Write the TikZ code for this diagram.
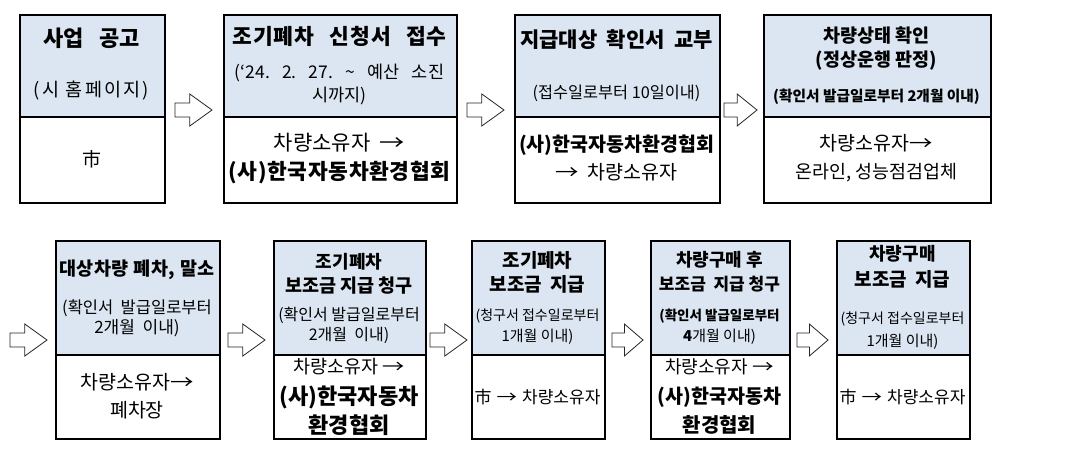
\documentclass[tikz,border=0pt]{standalone}
\usepackage{fontspec}
\usepackage{graphicx}
\setmainfont{Noto Sans CJK KR}
\definecolor{hd}{RGB}{220,230,242}
\newcommand\fs[1]{\fontsize{#1}{#1}\selectfont}
\newcommand\gap{\hspace{0.45em}}
\newcommand\wgap{\hspace{0.7em}}
\newcommand\ngap{\hspace{0.3em}}
\newcommand\rarr{\scalebox{1.2}[1]{→}}
\newcommand\LS[1]{\addfontfeature{LetterSpace=#1}}
\tikzset{
  boxn/.style={draw=black, line width=2pt, inner sep=0pt, anchor=north west},
  divl/.style={draw=black, line width=1.3pt},
  arr/.style={draw=black!85, line width=0.8pt, fill=white, line join=miter},
  ttl/.style={inner sep=0pt, font=\fs{20}\bfseries},
  ttls/.style={inner sep=0pt, font=\fs{18}\bfseries},
  sub/.style={inner sep=0pt, font=\fs{15.5}},
  bod/.style={inner sep=0pt, font=\fs{19.5}},
  bodb/.style={inner sep=0pt, font=\fs{20.5}\bfseries},
}
% name, x1, x2, ytop, ydiv, ybot
\newcommand\stepbox[6]{%
  \fill[hd] (#2,#4) rectangle (#3,#5);
  \draw[divl] (#2,#5) -- (#3,#5);
  \node[boxn, minimum width={#3-#2}, minimum height={#6-#4}] (#1) at (#2,#4) {};
}
% name, x1, x2, y
\newcommand\blockarr[4]{%
  \coordinate (#1) at ({(#2+#3)/2},#4);
  \draw[arr] (#2,#4-7) -- ({#2+0.4*(#3-#2)},#4-7) -- ({#2+0.4*(#3-#2)},#4-16)
    -- (#3,#4) -- ({#2+0.4*(#3-#2)},#4+16) -- ({#2+0.4*(#3-#2)},#4+7) -- (#2,#4+7) -- cycle;
}
\begin{document}
\begin{tikzpicture}[x=1pt,y=-1pt]
\useasboundingbox[fill=white] (0,0) rectangle (1076,451);

% top row
\stepbox{b1}{19}{164}{14}{117}{202}
\stepbox{b2}{223}{456}{14}{117}{202}
\stepbox{b3}{514}{719}{14}{117}{202}
\stepbox{b4}{763}{990}{14}{117}{202}
% bottom row
\stepbox{b5}{55}{219}{240}{355}{438}
\stepbox{b6}{273}{425}{240}{355}{438}
\stepbox{b7}{471}{604}{240}{355}{438}
\stepbox{b8}{650}{789}{240}{355}{438}
\stepbox{b9}{836}{969}{240}{355}{438}

% arrows
\blockarr{a1}{175}{212}{110}
\blockarr{a2}{467}{504}{110}
\blockarr{a3}{724}{757}{110}
\blockarr{a4}{10}{47}{340}
\blockarr{a5}{228}{265}{340}
\blockarr{a6}{430}{467}{340}
\blockarr{a7}{612}{643}{340}
\blockarr{a8}{797}{828}{340}

% box 1
\node[ttl, font=\fs{22}\bfseries] (t1a) at (91.5,38) {사업\wgap 공고};
\node[sub, font=\fs{18.5}\LS{12}] (t1b) at (91.5,91) {(시 홈페이지)};
\node[bod, font=\fs{19}] (t1c) at (91.5,159) {市};

% box 2
\node[ttl, font=\fs{21.5}\bfseries\LS{5}] (t2a) at (339.5,36) {조기폐차\wgap 신청서\wgap 접수};
\node[sub, font=\fs{17.5}] (t2b) at (339.5,73) {(‘24.\wgap 2.\wgap 27.\wgap \textasciitilde\wgap 예산\wgap 소진};
\node[sub, font=\fs{17.5}] (t2c) at (339.5,96) {시까지)};
\node[bod, font=\fs{21}] (t2d) at (339.5,143) {차량소유자\gap \rarr};
\node[bodb, font=\fs{21.5}\bfseries\LS{3}] (t2e) at (339.5,173) {(사)한국자동차환경협회};

% box 3
\node[ttl, font=\fs{21}\bfseries] (t3a) at (616.5,40) {지급대상\gap 확인서\gap 교부};
\node[sub, font=\fs{16.3}] (t3b) at (616.5,93) {(접수일로부터 10일이내)};
\node[bodb, font=\fs{19.5}\bfseries] (t3c) at (616.5,145) {(사)한국자동차환경협회};
\node[bod] (t3d) at (616.5,172) {\rarr\gap 차량소유자};

% box 4
\node[ttl, font=\fs{18.5}\bfseries] (t4a) at (876.5,36) {차량상태 확인};
\node[ttl, font=\fs{18.5}\bfseries] (t4b) at (876.5,61) {(정상운행 판정)};
\node[sub, font=\fs{14.7}\bfseries] (t4c) at (876.5,97) {(확인서 발급일로부터 2개월 이내)};
\node[bod] (t4d) at (876.5,143) {차량소유자\rarr};
\node[bod, font=\fs{18.4}] (t4e) at (876.5,173) {온라인, 성능점검업체};

% box 5
\node[ttls, font=\fs{18.5}\bfseries\LS{3}] (t5a) at (137,270) {대상차량 폐차, 말소};
\node[sub, font=\fs{16.5}] (t5b) at (137,308) {(확인서\gap 발급일로부터};
\node[sub, font=\fs{17}] (t5c) at (137,328) {2개월\gap 이내)};
\node[bod, font=\fs{19.5}] (t5d) at (137,382) {차량소유자\rarr};
\node[bod, font=\fs{19.5}] (t5e) at (137,410) {폐차장};

% box 6
\node[ttls] (t6a) at (349,262) {조기폐차};
\node[ttls, font=\fs{18.5}\bfseries] (t6b) at (349,286) {보조금 지급 청구};
\node[sub, font=\fs{16}] (t6c) at (349,315) {(확인서 발급일로부터};
\node[sub, font=\fs{16}] (t6d) at (349,335) {2개월\gap 이내)};
\node[bod, font=\fs{18.5}] (t6e) at (349,367) {차량소유자 \rarr};
\node[bodb, font=\fs{22}\bfseries] (t6f) at (349,397) {(사)한국자동차};
\node[bodb, font=\fs{22}\bfseries] (t6g) at (349,425) {환경협회};

% box 7
\node[ttls, font=\fs{19}\bfseries] (t7a) at (537.5,260) {조기폐차};
\node[ttls, font=\fs{19}\bfseries] (t7b) at (537.5,284) {보조금\gap 지급};
\node[sub, font=\fs{14}] (t7c) at (537.5,316) {(청구서 접수일로부터};
\node[sub, font=\fs{15}] (t7d) at (537.5,337) {1개월 이내)};
\node[bod, font=\fs{17}] (t7e) at (537.5,397) {市\ngap\rarr\ngap 차량소유자};

% box 8
\node[ttls] (t8a) at (719.5,260) {차량구매 후};
\node[ttls, font=\fs{17}\bfseries] (t8b) at (719.5,284) {보조금\gap 지급 청구};
\node[sub, font=\fs{13.5}\bfseries] (t8c) at (719.5,316) {(확인서 발급일로부터};
\node[sub, font=\fs{15}] (t8d) at (719.5,337) {\textbf{4}개월 이내)};
\node[bod, font=\fs{18}] (t8e) at (719.5,367) {차량소유자 \rarr};
\node[bodb, font=\fs{19.5}\bfseries] (t8f) at (719.5,397) {(사)한국자동차};
\node[bodb, font=\fs{20}\bfseries] (t8g) at (719.5,425) {환경협회};

% box 9
\node[ttls] (t9a) at (902.5,254) {차량구매};
\node[ttls, font=\fs{19}\bfseries] (t9b) at (902.5,279) {보조금\gap 지급};
\node[sub, font=\fs{14}] (t9c) at (902.5,319) {(청구서 접수일로부터};
\node[sub, font=\fs{15}] (t9d) at (902.5,342) {1개월 이내)};
\node[bod, font=\fs{17}] (t9e) at (902.5,397) {市\ngap\rarr\ngap 차량소유자};
\end{tikzpicture}
\end{document}
